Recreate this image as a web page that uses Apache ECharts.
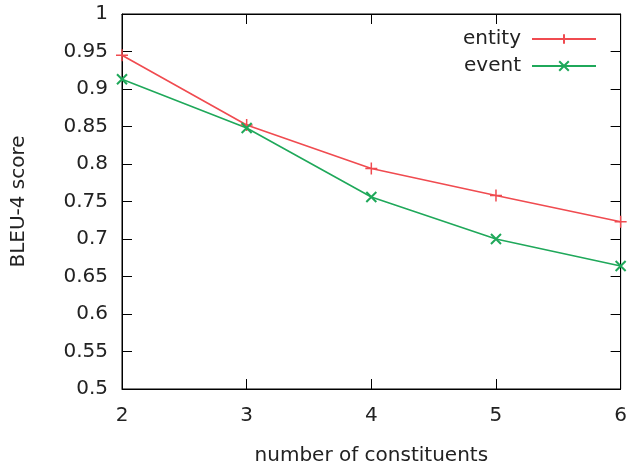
<!DOCTYPE html>
<html>
<head>
<meta charset="utf-8">
<script src="https://cdn.jsdelivr.net/npm/echarts@6/dist/echarts.min.js"></script>
<style>
html, body { margin: 0; padding: 0; background: #fff; }
#chart { width: 630px; height: 471px; }
</style>
</head>
<body>
<div id="chart"></div>
<script>
var constituents = [2, 3, 4, 5, 6];
var entityScores = [0.945, 0.852, 0.794, 0.758, 0.723];
var eventScores = [0.913, 0.848, 0.756, 0.700, 0.664];

var font = 'DejaVu Sans';
var plusPath = 'path://M5,0L5,10M0,5L10,5';
var crossPath = 'path://M0,0L10,10M10,0L0,10';

function pairs(xs, ys) {
	return xs.map(function(x, i) { return [x, ys[i]]; });
}

var tickStyle = { show: true, inside: true, length: 10, lineStyle: { color: '#000', width: 1 } };

var chart = echarts.init(document.getElementById('chart'));
chart.setOption({
	animation: false,
	backgroundColor: '#fff',
	textStyle: { fontFamily: font },
	grid: { left: 122, right: 7, top: 14, bottom: 82, show: true, borderColor: '#000', borderWidth: 1 },
	legend: {
		orient: 'vertical',
		right: 33,
		top: 29,
		padding: 0,
		align: 'right',
		itemWidth: 64,
		itemHeight: 12,
		itemGap: 7,
		textStyle: { fontFamily: font, fontSize: 20, color: '#222', padding: [0, 6, 0, 0] },
		data: ['entity', 'event']
	},
	xAxis: [{
		type: 'value', min: 2, max: 6, interval: 1,
		name: 'number of constituents', nameLocation: 'middle', nameGap: 57,
		nameTextStyle: { fontFamily: font, fontSize: 20, color: '#222' },
		axisLine: { show: true, lineStyle: { color: '#000' } },
		axisTick: tickStyle,
		axisLabel: { fontFamily: font, fontSize: 20, color: '#222', margin: 17 },
		splitLine: { show: false }
	}, {
		type: 'value', min: 2, max: 6, interval: 1, position: 'top',
		axisLine: { show: true, lineStyle: { color: '#000' } },
		axisTick: tickStyle,
		axisLabel: { show: false },
		splitLine: { show: false }
	}],
	yAxis: [{
		type: 'value', min: 0.5, max: 1, interval: 0.05,
		name: 'BLEU-4 score', nameLocation: 'middle', nameGap: 93, nameRotate: 90,
		nameTextStyle: { fontFamily: font, fontSize: 20, color: '#222' },
		axisLine: { show: true, lineStyle: { color: '#000' } },
		axisTick: tickStyle,
		axisLabel: { fontFamily: font, fontSize: 20, color: '#222', margin: 14 },
		splitLine: { show: false }
	}, {
		type: 'value', min: 0.5, max: 1, interval: 0.05, position: 'right',
		axisLine: { show: true, lineStyle: { color: '#000' } },
		axisTick: tickStyle,
		axisLabel: { show: false },
		splitLine: { show: false }
	}],
	series: [{
		name: 'entity',
		type: 'line',
		data: pairs(constituents, entityScores),
		symbol: plusPath,
		symbolSize: 12,
		showAllSymbol: true,
		lineStyle: { color: '#f04b50', width: 1.6 },
		itemStyle: { color: '#f04b50', borderColor: '#f04b50', borderWidth: 1.5 }
	}, {
		name: 'event',
		type: 'line',
		data: pairs(constituents, eventScores),
		symbol: crossPath,
		symbolSize: 10,
		showAllSymbol: true,
		lineStyle: { color: '#1fa85a', width: 1.6 },
		itemStyle: { color: '#1fa85a', borderColor: '#1fa85a', borderWidth: 2 }
	}]
});
</script>
</body>
</html>
